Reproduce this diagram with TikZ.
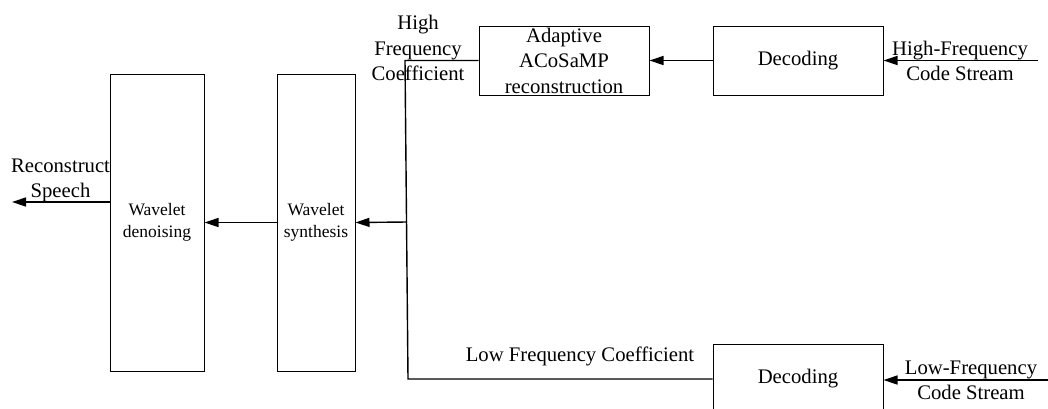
\documentclass[tikz,border=0pt]{standalone}
\usepackage{fontspec}
\setmainfont{Liberation Serif}
\usetikzlibrary{arrows.meta}
\begin{document}
\begin{tikzpicture}[x=1pt,y=-1pt,
  blk/.style={draw, line width=1pt, inner sep=0pt, align=center, font=\fontsize{20.7}{25.5}\selectfont},
  tallblk/.style={blk, font=\fontsize{17.5}{22}\selectfont},
  lbl/.style={inner sep=0pt, align=center, font=\fontsize{20.7}{25.5}\selectfont},
  conn/.style={line width=1.4pt},
  arr/.style={conn, -{Triangle[length=14pt,width=9pt]}}]
\useasboundingbox (0,0) rectangle (1048,408);
% boxes
\node[tallblk, minimum width=94pt, minimum height=297pt] (den) at (157,222.5) {Wavelet\\denoising};
\node[tallblk, minimum width=78pt, minimum height=297pt] (syn) at (316,222.5) {Wavelet\\synthesis};
\node[blk, minimum width=170pt, minimum height=69pt] (ada) at (564,60.5) {Adaptive\\ACoSaMP\\reconstruction};
\node[blk, minimum width=170pt, minimum height=69pt] (dech) at (798,60.5) {Decoding};
\node[blk, minimum width=170pt, minimum height=70pt] (decl) at (798,379) {\raisebox{-4pt}{Decoding}};
% coordinates
\coordinate (bt) at (405,60.5);
\coordinate (bm) at (407,222);
\coordinate (bb) at (408,379);
\coordinate (outend) at (12,202);
\coordinate (inH) at (1038,60.5);
\coordinate (inL) at (1048,380);
% connectors
\draw[conn] (ada.west) -- (bt) -- (bb) -- (decl.west);
\draw[arr] (bm) -- (syn.east);
\draw[arr] (syn.west) -- (den.east);
\draw[arr] (den.west |- outend) -- (outend);
\draw[arr] (dech.west) -- (ada.east);
\draw[arr] (inH) -- (dech.east);
\draw[arr] (inL) -- (decl.east |- inL);
% labels
\node[lbl] (lhf) at (418,48) {High\\Frequency\\Coefficient};
\node[lbl] (llf) at (580,356) {Low Frequency Coefficient};
\node[lbl] (lrs) at (60.5,180.5) {Reconstruct\\Speech};
\node[lbl] (lhs) at (960,61) {High-Frequency\\Code Stream};
\node[lbl] (lls) at (971,380.5) {Low-Frequency\\Code Stream};
\end{tikzpicture}
\end{document}
